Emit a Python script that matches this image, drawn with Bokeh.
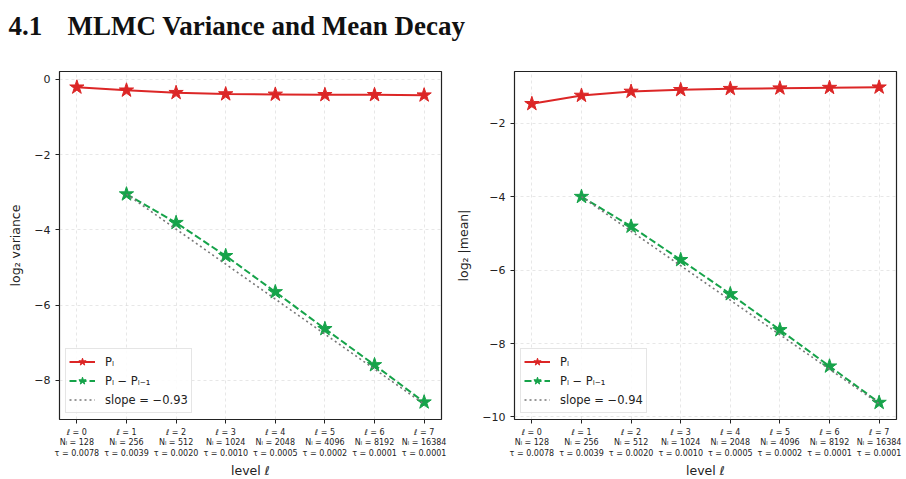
from bokeh.plotting import figure
from bokeh.layouts import column, row
from bokeh.models import Range1d, FixedTicker, Label, Legend
from bokeh.embed import file_html
from bokeh.resources import INLINE

# ---- data ----
levels = [0, 1, 2, 3, 4, 5, 6, 7]
n_samples = [128, 256, 512, 1024, 2048, 4096, 8192, 16384]
tau = [0.0078, 0.0039, 0.0020, 0.0010, 0.0005, 0.0002, 0.0001, 0.0001]

var_P = [-0.21, -0.29, -0.355, -0.39, -0.40, -0.41, -0.41, -0.42]
var_dP_levels = [1, 2, 3, 4, 5, 6, 7]
var_dP = [-3.05, -3.81, -4.69, -5.65, -6.63, -7.59, -8.58]
var_slope = -0.93

mean_P = [-1.47, -1.245, -1.135, -1.09, -1.06, -1.045, -1.03, -1.02]
mean_dP_levels = [1, 2, 3, 4, 5, 6, 7]
mean_dP = [-4.00, -4.81, -5.72, -6.65, -7.63, -8.62, -9.61]
mean_slope = -0.94

var_yticks = [0, -2, -4, -6, -8]
mean_yticks = [-2, -4, -6, -8, -10]

title_num = "4.1"
title_text = "MLMC Variance and Mean Decay"

RED = "#dc2626"
GREEN = "#16a34a"
FONT = "DejaVu Sans"


def tick_label(l, n, t):
    return f"ℓ = {l}\nNₗ = {n}\nτ = {t:.4f}"


def make_panel(P, dl, dP, slope, yticks, yrange, ylabel, border_left, border_right):
    p = figure(frame_width=382, frame_height=348,
               x_range=Range1d(-0.35, 7.35), y_range=Range1d(*yrange),
               output_backend="svg", toolbar_location=None,
               min_border_left=border_left, min_border_right=border_right,
               min_border_top=21, min_border_bottom=60)
    p.background_fill_color = "white"
    p.outline_line_color = "#222222"
    p.outline_line_width = 1.2

    r1l = p.line(levels, P, line_color=RED, line_width=2)
    r1s = p.scatter(levels, P, marker="star", size=15, fill_color=RED, line_color=RED)
    r2l = p.line(dl, dP, line_color=GREEN, line_width=2, line_dash="7 3")
    r2s = p.scatter(dl, dP, marker="star", size=15, fill_color=GREEN, line_color=GREEN)
    sx = [dl[0], dl[-1]]
    sy = [dP[0], dP[0] + slope * (dl[-1] - dl[0])]
    r3 = p.line(sx, sy, line_color="#777777", line_width=1.6, line_dash="2 3")

    legend = Legend(items=[("Pₗ", [r1l, r1s]),
                           ("Pₗ − Pₗ₋₁", [r2l, r2s]),
                           (f"slope = −{abs(slope):.2f}", [r3])],
                    location="bottom_left")
    legend.margin = 6
    legend.padding = 3
    legend.spacing = 0
    legend.glyph_width = 26
    legend.glyph_height = 19
    legend.label_height = 19
    legend.label_standoff = 10
    legend.label_text_font = FONT
    legend.label_text_font_size = "11.5px"
    legend.label_text_color = "#222222"
    legend.border_line_color = "#cccccc"
    legend.border_line_width = 1
    legend.background_fill_alpha = 0.85
    p.add_layout(legend, "center")

    p.xaxis.ticker = FixedTicker(ticks=levels)
    p.xaxis.major_label_overrides = {l: tick_label(l, n, t) for l, n, t in zip(levels, n_samples, tau)}
    p.yaxis.ticker = FixedTicker(ticks=yticks)
    p.yaxis.major_label_overrides = {v: (f"−{abs(v)}" if v < 0 else f"{v}") for v in yticks}

    for ax in (p.xaxis[0], p.yaxis[0]):
        ax.axis_line_color = None
        ax.major_tick_out = 4
        ax.major_tick_in = 0
        ax.minor_tick_line_color = None
        ax.major_tick_line_color = "#222222"
        ax.major_label_text_font = FONT
        ax.major_label_text_color = "#222222"
        ax.axis_label_text_font = FONT
        ax.axis_label_text_font_style = "normal"
        ax.axis_label_text_color = "#222222"
    p.xaxis.major_label_text_font_size = "8px"
    p.xaxis.major_label_standoff = 4
    p.xaxis.axis_label = "level ℓ"
    p.xaxis.axis_label_text_font_size = "12.5px"
    p.xaxis.axis_label_standoff = 2
    p.yaxis.major_label_text_font_size = "11px"
    p.yaxis.axis_label = ylabel
    p.yaxis.axis_label_text_font_size = "12.5px"
    p.yaxis.axis_label_standoff = 8

    p.grid.grid_line_color = "#bbbbbb"
    p.grid.grid_line_alpha = 0.45
    p.grid.grid_line_dash = "3 3"
    p.grid.grid_line_width = 0.8
    return p


p1 = make_panel(var_P, var_dP_levels, var_dP, var_slope, var_yticks,
                (-9.04, 0.21), "log₂ variance", 59, 12)
p2 = make_panel(mean_P, mean_dP_levels, mean_dP, mean_slope, mean_yticks,
                (-10.07, -0.59), "log₂ |mean|", 61, 10)

t = figure(width=906, height=50, x_range=Range1d(0, 906), y_range=Range1d(0, 50),
           output_backend="svg", toolbar_location=None,
           x_axis_location=None, y_axis_location=None,
           min_border=0)
t.outline_line_color = None
t.grid.visible = False
t.add_layout(Label(x=8, y=25, text=title_num, text_font="Liberation Serif",
                   text_font_style="bold", text_font_size="27px",
                   text_baseline="alphabetic", text_color="#111111"))
t.add_layout(Label(x=67, y=25, text=title_text, text_font="Liberation Serif",
                   text_font_style="bold", text_font_size="27px",
                   text_baseline="alphabetic", text_color="#111111"))

layout = column(t, row(p1, p2))
open("out.html", "w").write(file_html(layout, INLINE))
